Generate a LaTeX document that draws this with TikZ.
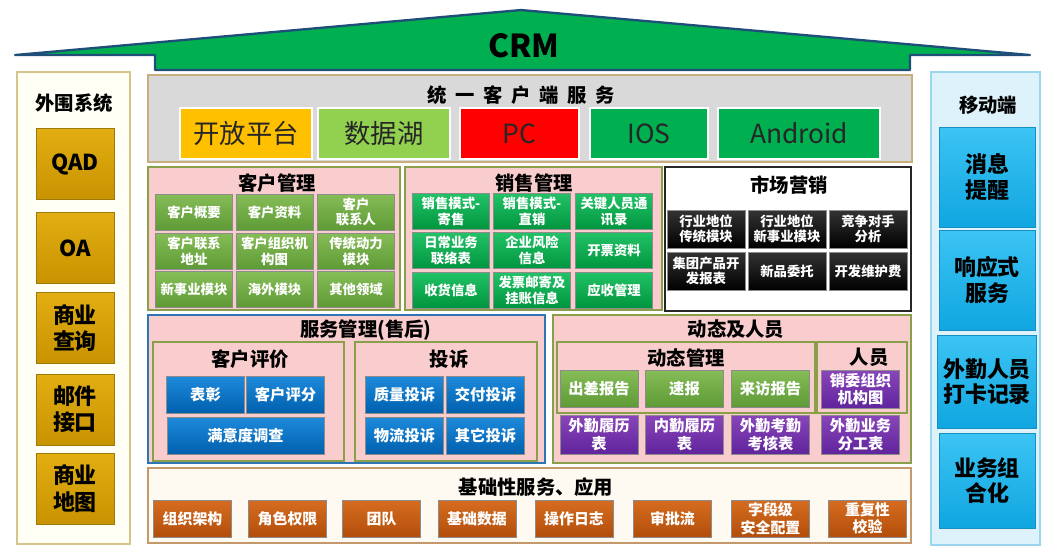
\documentclass[tikz,border=0pt]{standalone}
\usepackage{fontspec}
\setmainfont{Noto Sans CJK SC}
\usepackage{xcolor}

\definecolor{roofgreen}{HTML}{00B050}
\definecolor{roofline}{HTML}{1F4E79}
\definecolor{goldtop}{HTML}{E2AE12}
\definecolor{goldbot}{HTML}{C89300}
\definecolor{goldline}{HTML}{9E7A08}
\definecolor{cyantop}{HTML}{3CC4F4}
\definecolor{cyanbot}{HTML}{10A6E0}
\definecolor{cyanline}{HTML}{1590C0}
\definecolor{grayfill}{HTML}{D9D9D9}
\definecolor{tanline}{HTML}{C8AE7C}
\definecolor{pinkfill}{HTML}{F9CDCD}
\definecolor{oliveline}{HTML}{8A9F4A}
\definecolor{kgtop}{HTML}{86BD57}
\definecolor{kgbot}{HTML}{5E9A36}
\definecolor{emtop}{HTML}{22C267}
\definecolor{embot}{HTML}{00953E}
\definecolor{bltop}{HTML}{1E8ADB}
\definecolor{blbot}{HTML}{0060AE}
\definecolor{putop}{HTML}{8A45BA}
\definecolor{pubot}{HTML}{60249C}
\definecolor{ortop}{HTML}{D66C20}
\definecolor{orbot}{HTML}{B24E0A}
\definecolor{basefill}{HTML}{FFFAF1}
\definecolor{baseline}{HTML}{C49A6C}
\definecolor{waifill}{HTML}{FFFFF6}
\definecolor{wailine}{HTML}{D5C58A}
\definecolor{ydfill}{HTML}{DDF2FA}
\definecolor{ydline}{HTML}{9AD6EE}
\definecolor{svcline}{HTML}{2E75B6}
\definecolor{topyellow}{HTML}{FFC000}
\definecolor{toplgreen}{HTML}{92D050}
\definecolor{topred}{HTML}{FF0000}
\definecolor{topgreen}{HTML}{00B050}

\begin{document}
\begin{tikzpicture}[x=0.02cm, y=-0.02cm,
    title/.style={font=\fontsize{11}{13}\selectfont\bfseries},
    panel/.style={rectangle, line width=0.9pt, inner sep=0pt},
    sidebox/.style={rectangle, draw=goldline, top color=goldtop, bottom color=goldbot,
        minimum width=1.56cm, minimum height=1.42cm, align=center,
        font=\fontsize{12.5}{15}\selectfont\bfseries},
    mobbox/.style={rectangle, draw=cyanline, top color=cyantop, bottom color=cyanbot,
        minimum width=1.92cm, align=center,
        font=\fontsize{12.5}{14.5}\selectfont\bfseries},
    topbox/.style={rectangle, draw=white, line width=1.2pt, minimum height=1.02cm,
        text=black!85, font=\fontsize{15}{18}\selectfont},
    btn/.style={rectangle, draw=black!45, line width=0.4pt, align=center, text=white,
        inner sep=0pt, minimum width=1.56cm, minimum height=0.74cm,
        font=\fontsize{8.7}{10}\selectfont\bfseries},
    smallbtn/.style={btn, minimum width=1.54cm, minimum height=0.72cm,
        font=\fontsize{7.6}{9}\selectfont\bfseries},
    kbtn/.style={smallbtn, top color=kgtop, bottom color=kgbot},
    sbtn/.style={smallbtn, top color=emtop, bottom color=embot},
    mbtn/.style={smallbtn, top color=black!80, bottom color=black, minimum width=1.56cm,
        minimum height=0.76cm, font=\fontsize{7.6}{8.6}\selectfont\bfseries},
    bbtn/.style={btn, top color=bltop, bottom color=blbot},
    gbtn/.style={btn, top color=kgtop, bottom color=kgbot},
    pbtn/.style={btn, top color=putop, bottom color=pubot, minimum height=0.78cm},
    obtn/.style={btn, top color=ortop, bottom color=orbot, font=\fontsize{8.5}{10}\selectfont\bfseries}]

    \useasboundingbox (0,0) rectangle (1042,545);

    % roof
    \draw[fill=roofgreen, draw=roofline, line width=1.3pt, line join=round]
        (15,55) -- (521,10) -- (1030,55) -- (910,55) -- (910,70) -- (155,70) -- (155,55) -- cycle;
    \node[font=\fontsize{18}{20}\selectfont\bfseries] (crm) at (524,46) {CRM};

    % left column
    \node[panel, draw=wailine, fill=waifill, minimum width=2.26cm, minimum height=9.44cm] (wai) at (73.5,308) {};
    \node[title] (waiT) at (74,103) {外围系统};
    \node[sidebox] (qad) at (75,164) {QAD};
    \node[sidebox] (oa) at (75,248) {OA};
    \node[sidebox] (sycx) at (75,328) {商业\\查询};
    \node[sidebox] (yjjk) at (75,409.5) {邮件\\接口};
    \node[sidebox] (sydt) at (75,488.5) {商业\\地图};

    % right column
    \node[panel, draw=ydline, fill=ydfill, minimum width=2.18cm, minimum height=9.46cm] (yd) at (985.5,308.5) {};
    \node[title] (ydT) at (988,105) {移动端};
    \node[mobbox, minimum height=2.0cm] (xxtx) at (987,177) {消息\\提醒};
    \node[mobbox, minimum height=2.0cm] (xys) at (987,280) {响应式\\服务};
    \node[mobbox, minimum height=1.86cm] (wqdk) at (987,381.5) {外勤人员\\打卡记录};
    \node[mobbox, minimum height=1.9cm] (ywzh) at (987,480.5) {业务组\\合化};

    % unified client service
    \node[panel, draw=tanline, fill=grayfill, minimum width=15.28cm, minimum height=1.74cm] (tyfw) at (530,118.5) {};
    \node[title] (tyfwT) at (521,95) {统\hspace{5pt}一\hspace{5pt}客\hspace{5pt}户\hspace{5pt}端\hspace{5pt}服\hspace{5pt}务};
    \node[topbox, fill=topyellow, minimum width=2.64cm] (kfpt) at (246,133.5) {开放平台};
    \node[topbox, fill=toplgreen, minimum width=2.64cm] (sjh) at (384,133.5) {数据湖};
    \node[topbox, fill=topred, minimum width=2.38cm] (pc) at (519.5,133.5) {PC};
    \node[topbox, fill=topgreen, minimum width=2.36cm] (ios) at (649,133.5) {IOS};
    \node[topbox, fill=topgreen, minimum width=3.24cm] (android) at (799,133.5) {Android};

    % customer management
    \node[panel, draw=oliveline, fill=pinkfill, minimum width=5.04cm, minimum height=2.86cm] (khgl) at (274,238.5) {};
    \node[title] (khglT) at (277,183) {客户管理};
    \node[kbtn] (kh1) at (194,212) {客户概要};
    \node[kbtn] (kh2) at (274.5,212) {客户资料};
    \node[kbtn] (kh3) at (356,212) {客户\\联系人};
    \node[kbtn] (kh4) at (194,251) {客户联系\\地址};
    \node[kbtn] (kh5) at (274.5,251) {客户组织机\\构图};
    \node[kbtn] (kh6) at (356,251) {传统动力\\模块};
    \node[kbtn] (kh7) at (194,289.5) {新事业模块};
    \node[kbtn] (kh8) at (274.5,289.5) {海外模块};
    \node[kbtn] (kh9) at (356,289.5) {其他领域};

    % sales management
    \node[panel, draw=oliveline, fill=pinkfill, minimum width=5.14cm, minimum height=2.86cm] (xsgl) at (533.5,238.5) {};
    \node[title] (xsglT) at (534,183) {销售管理};
    \node[sbtn] (xs1) at (451,211.5) {销售模式-\\寄售};
    \node[sbtn] (xs2) at (532,211.5) {销售模式-\\直销};
    \node[sbtn] (xs3) at (614,211.5) {关键人员通\\讯录};
    \node[sbtn] (xs4) at (451,250.5) {日常业务\\联络表};
    \node[sbtn] (xs5) at (532,250.5) {企业风险\\信息};
    \node[sbtn] (xs6) at (614,250.5) {开票资料};
    \node[sbtn] (xs7) at (451,290) {收货信息};
    \node[sbtn] (xs8) at (532,290) {发票邮寄及\\挂账信息};
    \node[sbtn] (xs9) at (614,290) {应收管理};

    % marketing
    \node[panel, draw=black!85, line width=1.3pt, fill=white, minimum width=4.92cm, minimum height=2.88cm] (scyx) at (788,239) {};
    \node[title] (scyxT) at (789,185) {市场营销};
    \node[mbtn] (sc1) at (706,229) {行业地位\\传统模块};
    \node[mbtn] (sc2) at (787,229) {行业地位\\新事业模块};
    \node[mbtn] (sc3) at (868,229) {竞争对手\\分析};
    \node[mbtn] (sc4) at (706,271) {集团产品开\\发报表};
    \node[mbtn] (sc5) at (787,271) {新品委托};
    \node[mbtn] (sc6) at (868,271) {开发维护费};

    % after-sales service
    \node[panel, draw=svcline, fill=pinkfill, minimum width=7.94cm, minimum height=2.96cm] (fwgl) at (346.5,389) {};
    \node[title] (fwglT) at (366,330) {服务管理(售后)};
    \node[panel, draw=oliveline, fill=pinkfill, minimum width=3.82cm, minimum height=2.38cm] (khpj) at (248.5,401.5) {};
    \node[title] (khpjT) at (250,359) {客户评价};
    \node[bbtn] (pj1) at (205.5,394.5) {表彰};
    \node[bbtn] (pj2) at (285.5,394.5) {客户评分};
    \node[bbtn, minimum width=3.14cm] (pj3) at (245.5,435.5) {满意度调查};
    \node[panel, draw=oliveline, fill=pinkfill, minimum width=3.64cm, minimum height=2.38cm] (ts) at (446,401.5) {};
    \node[title] (tsT) at (449,359) {投诉};
    \node[bbtn] (ts1) at (404.5,394.5) {质量投诉};
    \node[bbtn] (ts2) at (485.5,394.5) {交付投诉};
    \node[bbtn] (ts3) at (404.5,435.5) {物流投诉};
    \node[bbtn] (ts4) at (485.5,435.5) {其它投诉};

    % dynamics and staff
    \node[panel, draw=oliveline, fill=pinkfill, minimum width=7.16cm, minimum height=2.96cm] (dtry) at (732,389) {};
    \node[title] (dtryT) at (736,329) {动态及人员};
    \node[panel, draw=oliveline, fill=pinkfill, minimum width=5.16cm, minimum height=1.42cm] (dtgl) at (686,377.5) {};
    \node[title] (dtglT) at (686,358) {动态管理};
    \node[panel, draw=oliveline, fill=pinkfill, minimum width=1.8cm, minimum height=1.42cm] (ry) at (862,377.5) {};
    \node[title] (ryT) at (869,357) {人员};
    \node[gbtn] (dt1) at (599,388.5) {出差报告};
    \node[gbtn] (dt2) at (684.5,388.5) {速报};
    \node[gbtn] (dt3) at (770.5,388.5) {来访报告};
    \node[pbtn, minimum height=0.76cm] (ry1) at (860.5,389) {销委组织\\机构图};
    \node[pbtn] (dt4) at (599,434.5) {外勤履历\\表};
    \node[pbtn] (dt5) at (684.5,434.5) {内勤履历\\表};
    \node[pbtn] (dt6) at (770.5,434.5) {外勤考勤\\考核表};
    \node[pbtn] (ry2) at (860.5,434.5) {外勤业务\\分工表};

    % base services
    \node[panel, draw=baseline, fill=basefill, minimum width=15.26cm, minimum height=1.5cm] (jc) at (529.5,505.5) {};
    \node[title] (jcT) at (536,487) {基础性服务、应用};
    \node[obtn] (jc1) at (192.5,518.5) {组织架构};
    \node[obtn] (jc2) at (287.5,518.5) {角色权限};
    \node[obtn] (jc3) at (381.5,518.5) {团队};
    \node[obtn] (jc4) at (477,518.5) {基础数据};
    \node[obtn] (jc5) at (574,518.5) {操作日志};
    \node[obtn] (jc6) at (672.5,518.5) {审批流};
    \node[obtn] (jc7) at (770.5,518.5) {字段级\\安全配置};
    \node[obtn] (jc8) at (867.5,518.5) {重复性\\校验};
\end{tikzpicture}
\end{document}
